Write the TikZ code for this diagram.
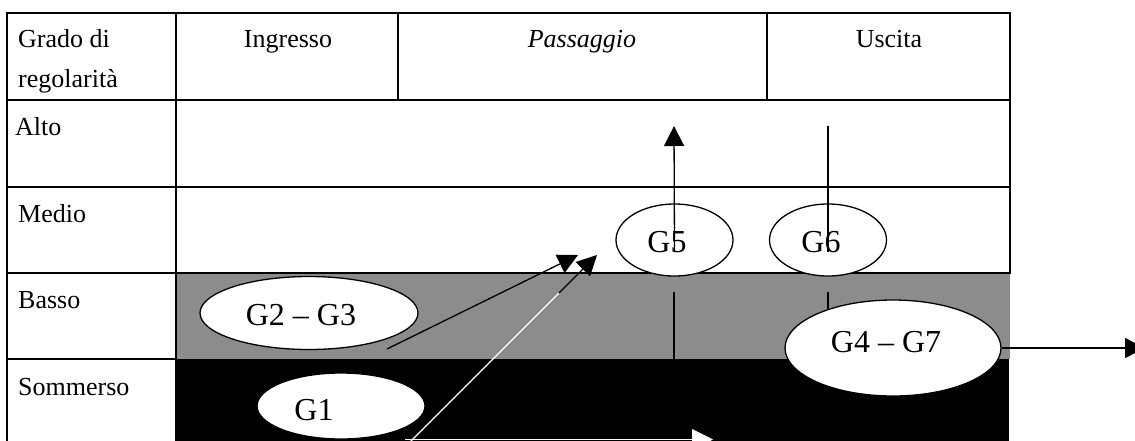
\documentclass[tikz,border=0pt]{standalone}
\usepackage{fontspec}
\setmainfont{Liberation Serif}
\usetikzlibrary{arrows.meta,shapes.geometric}
\definecolor{midgray}{RGB}{140,140,140}
\begin{document}
\begin{tikzpicture}[x=1pt,y=-1pt,
  txt/.style={inner sep=0pt, font=\fontsize{26pt}{30pt}\selectfont},
  etxt/.style={inner sep=0pt, font=\fontsize{32pt}{36pt}\selectfont},
  gridline/.style={line width=2pt, line cap=rect},
  ell/.style={ellipse, draw=black, fill=white, line width=1.3pt, inner sep=0pt},
  arr/.style={line width=1.3pt, -{Triangle[length=20pt,width=20pt]}},
  conn/.style={line width=1.3pt}]
\useasboundingbox (0,0) rectangle (1135,440);
\clip (0,0) rectangle (1135,440);
\fill[white] (0,0) rectangle (1135,440);
% shaded rows
\fill[midgray] (176,273) rectangle (1010,359);
\fill[black] (176,359) rectangle (1009,450);
% table lines
\draw[gridline] (7,450) -- (7,13) -- (1010,13) -- (1010,273);
\draw[gridline] (7,100) -- (1010,100);
\draw[gridline] (7,187) -- (1010,187);
\draw[gridline] (7,273) -- (1010,273);
\draw[gridline] (7,359) -- (176,359);
\draw[gridline] (176,13) -- (176,450);
\draw[gridline] (398,13) -- (398,100);
\draw[gridline] (767,13) -- (767,100);
% texts
\node[txt, anchor=base west] (hgrado) at (18,47) {Grado di};
\node[txt, anchor=base west] (hreg) at (18,87) {regolarità};
\node[txt, anchor=base] (hing) at (288,47) {Ingresso};
\node[txt, anchor=base] (hpas) at (582,47) {\itshape Passaggio};
\node[txt, anchor=base] (husc) at (889,47) {Uscita};
\node[txt, anchor=base west] (ralto) at (15,135) {Alto};
\node[txt, anchor=base west] (rmedio) at (18,222) {Medio};
\node[txt, anchor=base west] (rbasso) at (18,308) {Basso};
\node[txt, anchor=base west] (rsomm) at (18,395) {Sommerso};
% lower line segments
\coordinate (s5a) at (674,292);
\coordinate (s5b) at (674,359);
\draw[conn] (s5a) -- (s5b);
\coordinate (s6a) at (828,292);
\coordinate (s6b) at (828,330);
\draw[conn] (s6a) -- (s6b);
% ellipses
\node[ell, minimum width=218pt, minimum height=73pt] (g23) at (309,313) {};
\node[etxt, anchor=base] (g23t) at (301,325) {G2 – G3};
\node[ell, minimum width=168pt, minimum height=66pt] (g1) at (341,406) {};
\node[etxt, anchor=base] (g1t) at (314,420) {G1};
\node[ell, minimum width=216pt, minimum height=96pt] (g47) at (893,348) {};
\node[etxt, anchor=base] (g47t) at (886,352) {G4 – G7};
\node[ell, minimum width=117pt, minimum height=72pt] (g5) at (674.5,240) {};
\node[etxt, anchor=base] (g5t) at (667,252) {G5};
\node[ell, minimum width=117pt, minimum height=72pt] (g6) at (828,240) {};
\node[etxt, anchor=base] (g6t) at (821,252) {G6};
% arrows
\coordinate (a5tip) at (674,126);
\draw[arr] ([yshift=-12pt]g5.center) -- (a5tip);
\coordinate (l6top) at (828,126);
\draw[conn] (l6top) -- ([yshift=-12pt]g6.center);
\coordinate (a23s) at (387,349);
\coordinate (a23t) at (578,255);
\draw[arr] (a23s) -- (a23t);
\coordinate (a1s) at (400,452);
\coordinate (a1m) at (559,293);
\coordinate (a1t) at (597,255);
\draw[line width=1.1pt, white] (a1s) -- (a1m);
\draw[arr] (a1m) -- (a1t);
\coordinate (a47t) at (1145,348);
\draw[arr] (g47.east) -- (a47t);
\coordinate (bs) at (405,439.5);
\coordinate (bt) at (713,439.5);
\draw[white, line width=1pt, -{Triangle[length=21pt,width=21pt]}] (bs) -- (bt);
\end{tikzpicture}
\end{document}
